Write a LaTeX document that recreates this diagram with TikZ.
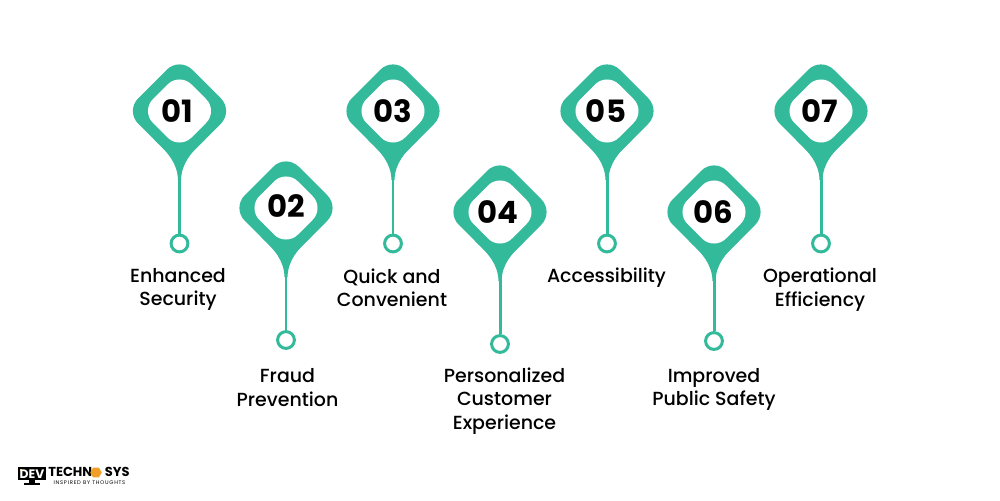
\documentclass[tikz,border=0pt]{standalone}
\usepackage{fontspec}
\setmainfont{Poppins}
\newfontfamily\labelfont{Poppins Medium}
\newfontfamily\logofont[LetterSpace=14]{Poppins}
\definecolor{pinteal}{RGB}{50, 186, 155}
\definecolor{hexorange}{RGB}{240, 160, 40}
\usetikzlibrary{positioning, calc, shapes.geometric}

\tikzset{
  pics/pinmark/.style={code={
    \fill[pinteal, rounded corners=10.2pt] (-54,0) -- (0,54) -- (54,0) -- (0,-54) -- cycle;
    \fill[pinteal] (-25,29) .. controls (-12,41) and (-2,52) .. (-1.5,69)
      -- (1.5,69) .. controls (2,52) and (12,41) .. (25,29) -- cycle;
    \fill[white, rounded corners=9.6pt] (-38.5,0) -- (0,38.5) -- (38.5,0) -- (0,-38.5) -- cycle;
  }}
}

\begin{document}
\begin{tikzpicture}[
  x=0.02cm, y=-0.02cm,
  numlabel/.style={font=\fontsize{17.5}{17.5}\selectfont\bfseries, text=black, inner sep=0pt},
  ringnode/.style={circle, draw=pinteal, line width=1.7pt, fill=white, minimum size=3.36mm, inner sep=0pt},
  stemline/.style={draw=pinteal, line width=1.7pt},
  steplabel/.style={font=\labelfont\fontsize{10.8}{13.3}\selectfont, text=black, align=center, inner sep=0pt}
]
  \useasboundingbox (0,0) rectangle (1000,500);
  \fill[white] (0,0) rectangle (1000,500);

  % pin heads
  \pic at (179.5,111) {pinmark};
  \pic at (286,208) {pinmark};
  \pic at (393,111) {pinmark};
  \pic at (500,212) {pinmark};
  \pic at (607,111) {pinmark};
  \pic at (714,212) {pinmark};
  \pic at (821,111) {pinmark};

  % numbers
  \node[numlabel] (num1) at (177.5,111.5) {01};
  \node[numlabel] (num2) at (286,206.5) {02};
  \node[numlabel] (num3) at (393,111.5) {03};
  \node[numlabel] (num4) at (498,212.5) {04};
  \node[numlabel] (num5) at (606,111.5) {05};
  \node[numlabel] (num6) at (713,212.5) {06};
  \node[numlabel] (num7) at (820,111.5) {07};

  % rings
  \node[ringnode] (ring1) at (179.5,243.5) {};
  \node[ringnode] (ring2) at (286,340) {};
  \node[ringnode] (ring3) at (393,243.5) {};
  \node[ringnode] (ring4) at (500,344) {};
  \node[ringnode] (ring5) at (607,243.5) {};
  \node[ringnode] (ring6) at (714,341) {};
  \node[ringnode] (ring7) at (821,243.5) {};

  \coordinate (tip1) at (179.5,175);
  \coordinate (tip2) at (286,272);
  \coordinate (tip3) at (393,175);
  \coordinate (tip4) at (500,276);
  \coordinate (tip5) at (607,175);
  \coordinate (tip6) at (714,276);
  \coordinate (tip7) at (821,175);
  \draw[stemline] (tip1) -- (ring1);
  \draw[stemline] (tip2) -- (ring2);
  \draw[stemline] (tip3) -- (ring3);
  \draw[stemline] (tip4) -- (ring4);
  \draw[stemline] (tip5) -- (ring5);
  \draw[stemline] (tip6) -- (ring6);
  \draw[stemline] (tip7) -- (ring7);

  % labels
  \node[steplabel] (text1) at (178,289.5) {Enhanced\\Security};
  \node[steplabel] (text2) at (287.5,387.5) {Fraud\\Prevention};
  \node[steplabel] (text3) at (392,287.5) {Quick and\\Convenient};
  \node[steplabel] (text4) at (504.5,401) {Personalized\\Customer\\Experience};
  \node[steplabel] (text5) at (606.5,278) {Accessibility};
  \node[steplabel] (text6) at (714,389.5) {Improved\\Public Safety};
  \node[steplabel] (text7) at (820,289.5) {Operational\\Efficiency};

  % logo
  \fill[black] (18,467) rectangle (46,480);
  \fill[black] (29,480) rectangle (35,483);
  \fill[black] (24,483) rectangle (40,485);
  \fill[hexorange] (20,469) rectangle (22,471);
  \node[font=\fontsize{7}{7}\selectfont\bfseries, text=white, inner sep=0pt] (logodev) at (32,474) {DEV};
  \node[font=\fontsize{7.4}{7.4}\selectfont\bfseries, text=black, inner sep=0pt, anchor=west] (logotech) at (48,472) {TECHN};
  \node[regular polygon, regular polygon sides=6, fill=hexorange, minimum size=2.3mm, inner sep=0pt] (logohex) at (96,472.5) {};
  \node[font=\fontsize{7.4}{7.4}\selectfont\bfseries, text=black, inner sep=0pt, anchor=east] (logosys) at (130,472) {SYS};
  \node[font=\logofont\fontsize{3}{3}\selectfont, text=black, inner sep=0pt] (logotag) at (89.5,482.5) {INSPIRED BY THOUGHTS};
\end{tikzpicture}
\end{document}
